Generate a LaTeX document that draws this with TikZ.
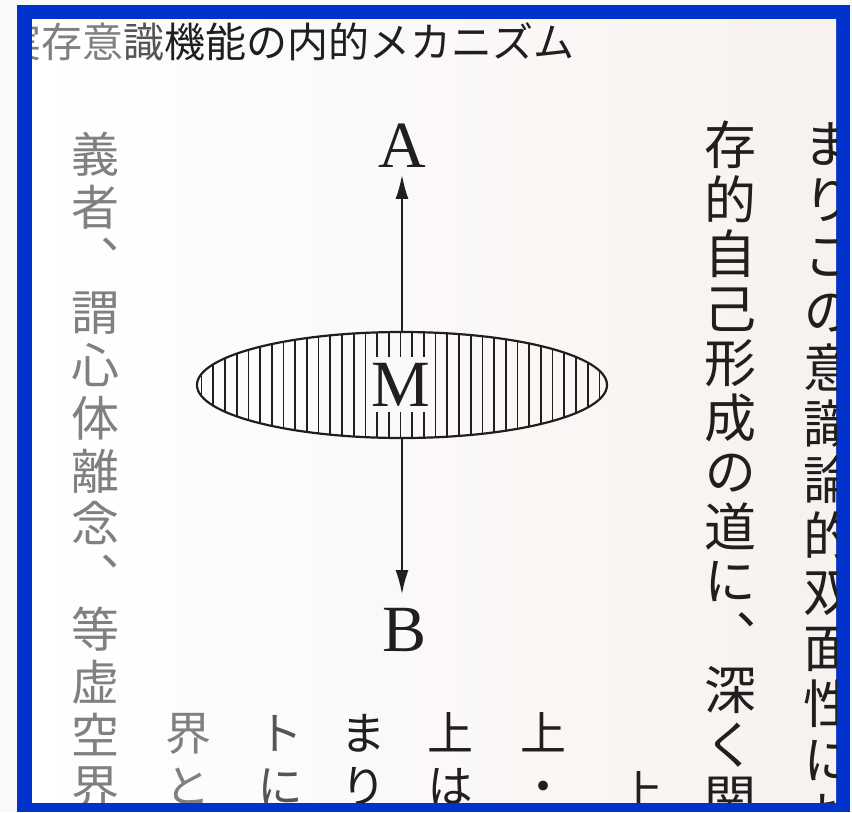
\documentclass[tikz,border=0pt]{standalone}
\usepackage{fontspec}
\newfontfamily\jpfont[RawFeature=+vert]{Noto Sans CJK JP}
\newfontfamily\jptitle{Noto Sans CJK JP}
\newfontfamily\latinserif{Liberation Serif}
\usetikzlibrary{shapes.geometric,arrows.meta}
\tikzset{>={Latex[length=24pt,width=13pt]}}
\definecolor{frameblue}{RGB}{2,50,204}
\definecolor{paper}{RGB}{241,233,229}
\definecolor{ink}{RGB}{32,30,30}
\definecolor{fadeink}{RGB}{128,128,128}
\definecolor{midink}{RGB}{85,85,85}
\tikzset{
  jp/.style={font=\jpfont\fontsize{#1}{#1}\selectfont, inner sep=0pt,
    text height={0.88*#1pt}, text depth={0.12*#1pt}},
  letter/.style={font=\latinserif\fontsize{66}{66}\selectfont, inner sep=0pt, text=ink},
  hatch/.style={line width=1.7pt, ink},
}

\begin{document}
\begin{tikzpicture}[x=1pt,y=-1pt]
  \useasboundingbox (0,0) rectangle (852,812);
  \fill[white!95!gray] (0,0) rectangle (852,812);
  \fill[frameblue] (17,5) rectangle (850,812);
  \begin{scope}
    \clip (32,19) rectangle (836,802);
    \shade[left color=white, middle color=paper, right color=paper!60!white] (30,17) rectangle (838,804);

    % running head
    \node[font=\jptitle\fontsize{41}{41}\selectfont, inner sep=0pt, anchor=west, text=ink] (title) at (0,42)
      {{\color{fadeink}実存意}{\color{midink}識}機能の内的メカニズム};

    % body text, vertical columns
    \foreach \c [count=\i from 0] in {義,者,、,謂,心,体,離,念,、,等,虚,空,界}
      \node[jp=48, text=fadeink] (la\i) at (95,154+52.8*\i) {\c};
    \foreach \x/\a/\b/\col [count=\j] in {188/界/と/fadeink, 280/ト/に/midink, 363/ま/り/ink, 450/上/は/ink, 543/上/・/ink}{
      \node[jp=46, text=\col] (b\j a) at (\x,733) {\a};
      \node[jp=46, text=\col] (b\j b) at (\x,786) {\b};
    }
    \node[jp=46, text=ink] (b6a) at (640,792) {上};
    \foreach \c [count=\i from 0] in {存,的,自,己,形,成,の,道,に,、,深,く,関}
      \node[jp=52, text=ink] (ra\i) at (730,145+54.5*\i) {\c};
    \foreach \c [count=\i from 0] in {ま,り,こ,の,意,識,論,的,双,面,性,に,お}
      \node[jp=52, text=ink] (rb\i) at (829,144+56*\i) {\c};

    % hatched ellipse, lines broken round the letter
    \begin{scope}
      \clip (402,385) ellipse [x radius=205, y radius=53];
      \foreach \k in {-18,...,-3,3,4,...,18}
        \draw[hatch] (400.5+11.7*\k,320) -- ++(0,130);
      \foreach \k in {-2,...,2}{
        \draw[hatch] (400.5+11.7*\k,320) -- (400.5+11.7*\k,357);
        \draw[hatch] (400.5+11.7*\k,412) -- (400.5+11.7*\k,450);
      }
    \end{scope}
    \node[draw=ink, line width=2.2pt, ellipse, minimum width=410pt, minimum height=106pt, inner sep=0pt] (mid) at (402,385) {};
    \node[letter] (M) at (401,385) {M};

    \node[letter] (A) at (402,146) {A};
    \node[letter] (B) at (405,630) {B};
    \draw[->, line width=1.7pt, ink, shorten >=7pt] (mid.north) -- (mid.north |- A.south);
    \draw[->, line width=1.7pt, ink, shorten >=14pt] (mid.south) -- (mid.south |- B.north);
  \end{scope}
\end{tikzpicture}
\end{document}
